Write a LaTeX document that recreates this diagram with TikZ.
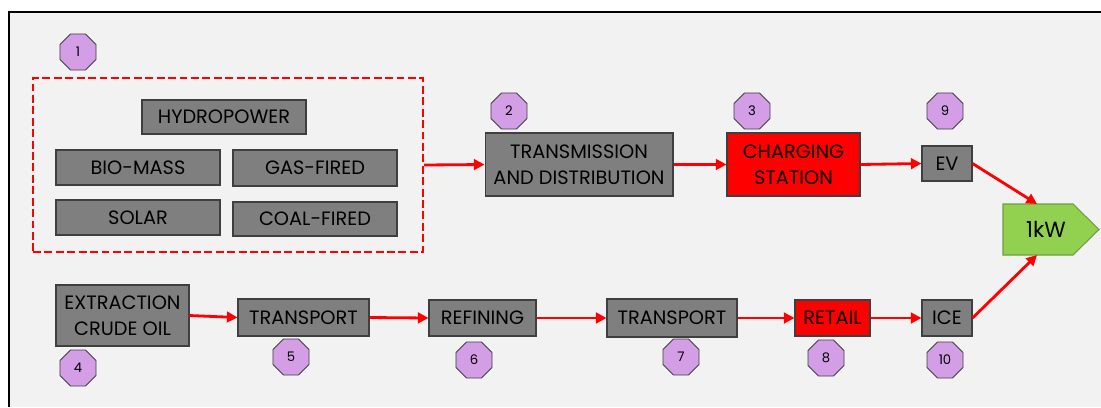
\documentclass[tikz,border=0pt]{standalone}
\usepackage{fontspec}
\setmainfont{Poppins}
\usetikzlibrary{positioning,shapes.geometric,arrows.meta}

\definecolor{bgGray}{HTML}{F2F2F2}
\definecolor{boxGray}{HTML}{7F7F7F}
\definecolor{boxLine}{HTML}{3F3F3F}
\definecolor{stepPurple}{HTML}{D39EE6}
\definecolor{kwGreen}{HTML}{92D050}
\definecolor{kwLine}{HTML}{6F9F3F}

\tikzset{
 gbox/.style={draw=boxLine, fill=boxGray, line width=0.6pt, inner sep=1pt, align=center, font=\fontsize{11}{14.5}\selectfont},
 rbox/.style={gbox, fill=red},
 stepnum/.style={regular polygon, regular polygon sides=8, draw=boxLine, fill=stepPurple, line width=0.5pt, minimum size=0.78cm, inner sep=0pt, font=\fontsize{7.5}{8}\selectfont},
 flow/.style={draw=red, line width=1.6pt, -{Triangle[length=6pt,width=6pt]}},
}

\begin{document}
\begin{tikzpicture}[x=0.02cm, y=-0.02cm]
 \useasboundingbox (0,0) rectangle (1101,407);

 %Background
 \fill[bgGray] (9,12) rectangle (1101,407);
 \draw[black, line width=1.1pt] (9,407) -- (9,12) -- (1101,12);

 %Electricity sources
 \node (sources) [draw=red, dashed, dash pattern=on 4.5pt off 2pt, line width=1.2pt, minimum width=7.8cm, minimum height=3.48cm] at (228,165) {};
 \node (hydro) [gbox, minimum width=3.28cm, minimum height=0.68cm] at (224,117) {HYDROPOWER};
 \node (biomass) [gbox, minimum width=3.28cm, minimum height=0.70cm] at (138,167.5) {BIO-MASS};
 \node (gasfired) [gbox, minimum width=3.28cm, minimum height=0.72cm] at (315,168) {GAS-FIRED};
 \node (solar) [gbox, minimum width=3.28cm, minimum height=0.70cm] at (138,217.5) {SOLAR};
 \node (coalfired) [gbox, minimum width=3.28cm, minimum height=0.68cm] at (315,219) {COAL-FIRED};

 %Upper chain
 \node (trans) [gbox, minimum width=3.76cm, minimum height=1.26cm] at (579,164.5) {TRANSMISSION\\AND DISTRIBUTION};
 \node (charging) [rbox, minimum width=2.66cm, minimum height=1.26cm] at (793.5,164.5) {CHARGING\\STATION};
 \node (ev) [gbox, minimum width=1.0cm, minimum height=0.70cm] at (947,163.5) {EV};

 %Lower chain
 \node (extraction) [gbox, minimum width=2.66cm, minimum height=1.22cm] at (122.5,315.5) {EXTRACTION\\CRUDE OIL};
 \node (transportA) [gbox, minimum width=2.62cm, minimum height=0.74cm] at (303.5,317.5) {TRANSPORT};
 \node (refining) [gbox, minimum width=2.14cm, minimum height=0.72cm] at (482.5,318) {REFINING};
 \node (transportB) [gbox, minimum width=2.60cm, minimum height=0.76cm] at (672,318) {TRANSPORT};
 \node (retail) [rbox, minimum width=1.50cm, minimum height=0.72cm] at (832.5,318) {RETAIL};
 \node (ice) [gbox, minimum width=1.0cm, minimum height=0.72cm] at (947,318) {ICE};

 %Output
 \draw[draw=kwLine, fill=kwGreen, line width=0.6pt] (1003,204) -- (1073,204) -- (1099,229.5) -- (1073,255) -- (1003,255) -- cycle;
 \node (kw) [font=\fontsize{12.5}{14}\selectfont] at (1046,229.5) {1kW};
 \coordinate (kwTop) at (1037,204);
 \coordinate (kwBottom) at (1037,255);

 %Step numbers
 \node (num1) [stepnum] at (78,52) {1};
 \node (num2) [stepnum] at (509,111) {2};
 \node (num3) [stepnum] at (752,111) {3};
 \node (num9) [stepnum] at (945,111) {9};
 \node (num4) [stepnum] at (78,368) {4};
 \node (num5) [stepnum] at (291,357) {5};
 \node (num6) [stepnum] at (474,360) {6};
 \node (num7) [stepnum] at (681,357) {7};
 \node (num8) [stepnum] at (826,358) {8};
 \node (num10) [stepnum] at (945,360) {10};

 %Arrows
 \draw[flow] (sources.east) -- (trans.west);
 \draw[flow] (trans.east) -- (charging.west);
 \draw[flow] (charging.east) -- (ev.west);
 \draw[flow] (ev.east) -- (kwTop);
 \draw[flow] (extraction.east) -- (transportA.west);
 \draw[flow] (transportA.east) -- (refining.west);
 \draw[flow] (refining.east) -- (transportB.west);
 \draw[flow] (transportB.east) -- (retail.west);
 \draw[flow] (retail.east) -- (ice.west);
 \draw[flow] (ice.east) -- (kwBottom);

\end{tikzpicture}
\end{document}
